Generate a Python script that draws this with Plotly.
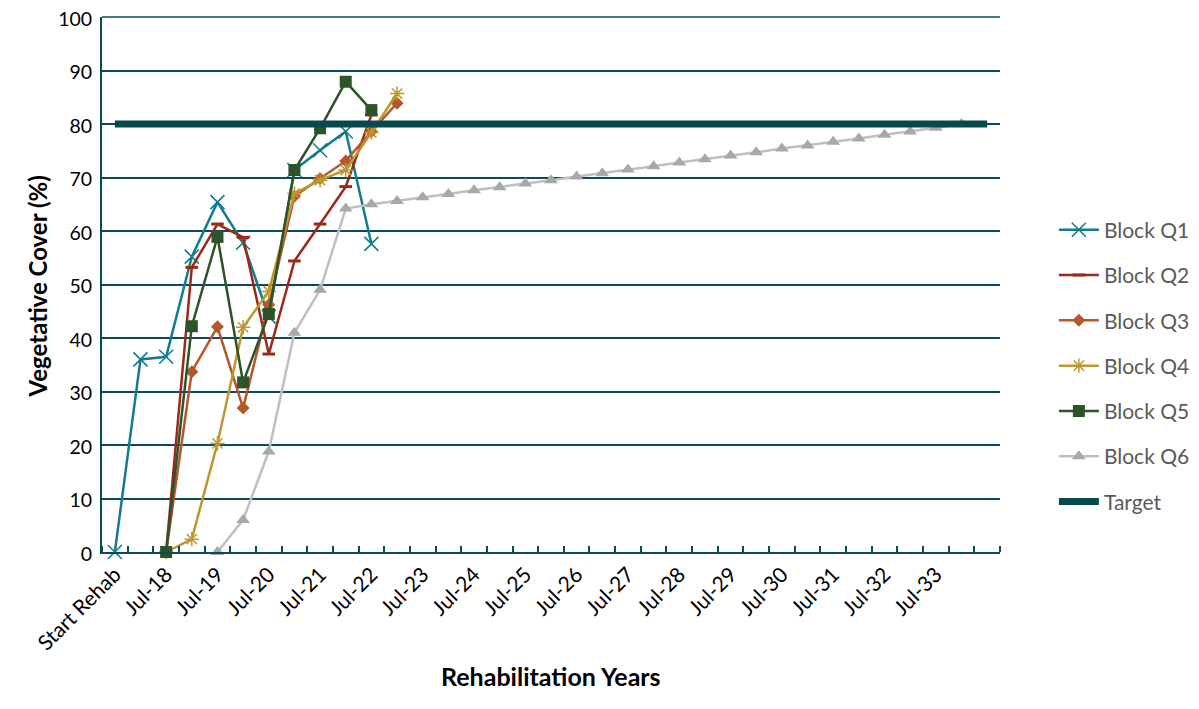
import plotly.graph_objects as go

# Half-yearly categories (only every other label shown)
categories = ["Start Rehab", "Jan-18"]
for yr in range(18, 34):
    categories += [f"Jul-{yr}", f"Jan-{yr+1}"]
categories += [""]  # last (blank) category

q1 = [0, 36, 36.5, 55.2, 65.4, 57.8, 44, 71.4, 75.1, 78.6, 57.6]
q2 = [None, None, 0, 53.2, 61.3, 58.8, 37.0, 54.4, 61.3, 68.3, 81.7]
q3 = [None, None, 0, 33.7, 42.1, 26.9, 46.2, 66.5, 69.8, 73.1, 78.6, 83.9]
q4 = [None, None, 0, 2.4, 20.3, 42.0, 48.7, 67.0, 69.5, 71.4, 78.4, 85.7]
q5 = [None, None, 0, 42.2, 58.9, 31.7, 44.5, 71.4, 79.2, 87.9, 82.6]
q6 = [None, None, None, None, 0, 6.0, 18.8, 41.0, 49.0, 64.2, 65.0, 65.6,
      66.3, 66.9, 67.6, 68.2, 68.9, 69.5, 70.2, 70.8, 71.5, 72.1, 72.8,
      73.4, 74.1, 74.7, 75.4, 76.0, 76.7, 77.3, 78.0, 78.6, 79.3, 80.0]
target = [80] * len(categories)

series = [
    ("Block Q1", q1, "#137C8C", dict(symbol="x-thin-open", size=14, line=dict(width=1.6, color="#137C8C"))),
    ("Block Q2", q2, "#9A2A17", dict(symbol="line-ew-open", size=9, line=dict(width=3, color="#9A2A17"))),
    ("Block Q3", q3, "#B4572A", dict(symbol="diamond", size=10, color="#B4572A")),
    ("Block Q4", q4, "#BC982F", dict(symbol="asterisk-open", size=12, line=dict(width=1.5, color="#BC982F"))),
    ("Block Q5", q5, "#2E5229", dict(symbol="square", size=12, color="#2E5229")),
    ("Block Q6", q6, "#BFBFBF", dict(symbol="triangle-up", size=12, color="#A8A8A8")),
]

axis_col = "#0B4A5A"
fig = go.Figure()
idx = list(range(len(categories)))
for name, vals, col, mk in series:
    fig.add_trace(go.Scatter(
        x=idx[:len(vals)], y=vals, name=name, mode="lines+markers",
        line=dict(color=col, width=2.5), marker=mk, cliponaxis=False,
        legendgroup=name, connectgaps=False))
fig.add_trace(go.Scatter(
    x=idx, y=target, name="Target", mode="lines",
    line=dict(color="#08484F", width=7), legendgroup="Target"))

# Page has an 8px body margin; size the figure to fit the 1199x709 window.
W, H = 1199 - 16, 709 - 16
L, T, PW, PH = 94, 9, 898, 535
tickvals = [i for i in idx if i % 2 == 0 and categories[i]]
fig.update_layout(
    width=W, height=H,
    margin=dict(l=L, r=W - L - PW, t=T, b=H - T - PH, autoexpand=False),
    plot_bgcolor="white", paper_bgcolor="white",
    font=dict(family="Lato, Open Sans, sans-serif", size=21, color="black"),
    showlegend=True,
    legend=dict(x=1.06, y=0.64, xanchor="left", yanchor="top",
                font=dict(size=21, color="#595959"), tracegroupgap=15,
                itemwidth=40),
    xaxis=dict(range=[-0.5, len(categories) - 0.5], tickmode="array",
               tickvals=tickvals, ticktext=[categories[i] for i in tickvals],
               tickangle=-45, ticks="", showgrid=False, zeroline=False,
               showline=True, linecolor=axis_col, linewidth=2,
               automargin=False, tickfont=dict(size=21),
               ticklabeloverflow="allow",
               minor=dict(tickmode="array",
                          tickvals=[i - 0.5 for i in range(len(categories) + 1)],
                          ticks="inside", ticklen=6, tickwidth=2,
                          tickcolor=axis_col, showgrid=False)),
    yaxis=dict(range=[0, 100], tickmode="array",
               tickvals=list(range(0, 101, 10)), showgrid=True,
               gridcolor=axis_col, gridwidth=1.5, zeroline=False,
               showline=True, automargin=False, linecolor=axis_col,
               linewidth=2, ticks="", ticklabelstandoff=4,
               ticklabelshift=2,
               ticklabeloverflow="allow", tickfont=dict(size=19.5)),
    shapes=[dict(type="line", xref="paper", yref="paper", x0=0, x1=1,
                 y0=1, y1=1, line=dict(color=axis_col, width=1.5),
                 layer="below")],
    annotations=[
        dict(text="<b>Vegetative Cover (%)</b>", x=(20 - 102) / PW,
             y=(552 - 287) / PH, xref="paper", yref="paper", showarrow=False,
             textangle=-90, font=dict(size=24, color="black")),
        dict(text="<b>Rehabilitation Years</b>", x=(551 - 102) / PW,
             y=(552 - 693) / PH, xref="paper", yref="paper", showarrow=False,
             font=dict(size=25, color="black")),
    ],
)

fig.write_html("out.html")
